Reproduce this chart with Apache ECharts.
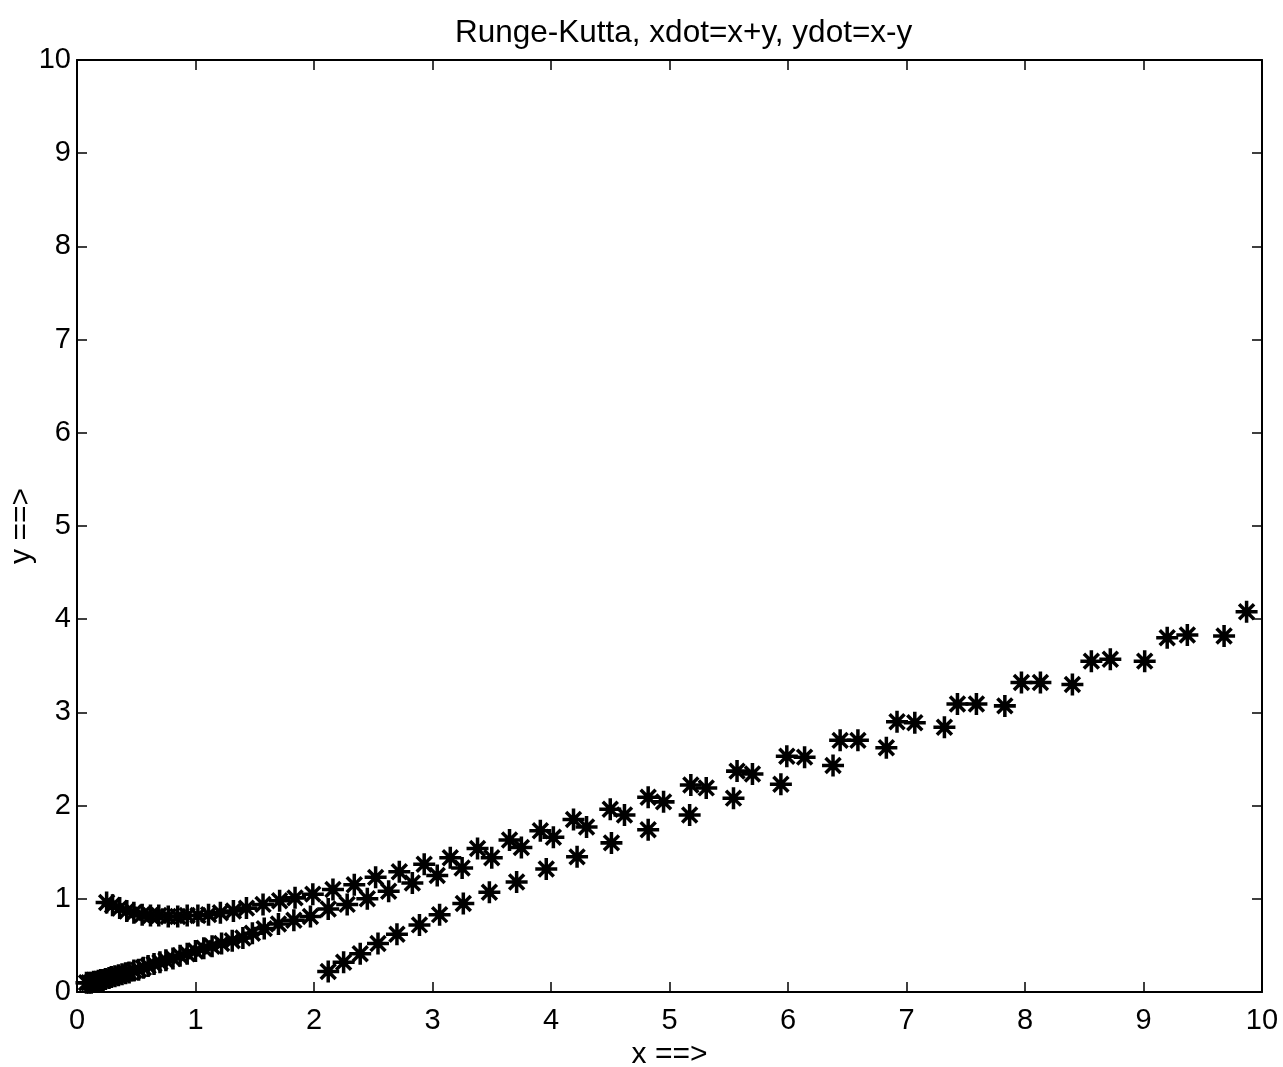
<!DOCTYPE html>
<html>
<head>
<meta charset="utf-8">
<title>Runge-Kutta</title>
<script src="https://cdn.jsdelivr.net/npm/echarts@6/dist/echarts.min.js"></script>
<style>
  html, body { margin: 0; padding: 0; background: #fff; }
  #chart { width: 1283px; height: 1067px; }
</style>
</head>
<body>
<div id="chart"></div>
<script>
// trajectory starting near (0.25, 0.95)
const upperX = [0.25, 0.30, 0.36, 0.42, 0.48, 0.55, 0.62, 0.69, 0.77, 0.85, 0.93, 1.02, 1.11, 1.21, 1.32,
  1.43, 1.57, 1.71, 1.84, 1.99, 2.16, 2.34, 2.52, 2.72, 2.93, 3.15, 3.38, 3.65, 3.91, 4.19,
  4.50, 4.82, 5.18, 5.57, 5.99, 6.44, 6.92, 7.43, 7.97, 8.56, 9.20, 9.87]
const upperY = [0.96, 0.93, 0.90, 0.87, 0.85, 0.83, 0.82, 0.82, 0.81, 0.81, 0.82, 0.82, 0.83, 0.85, 0.87,
  0.90, 0.94, 0.98, 1.01, 1.05, 1.10, 1.15, 1.23, 1.29, 1.37, 1.44, 1.54, 1.63, 1.73, 1.85,
  1.96, 2.09, 2.22, 2.37, 2.53, 2.70, 2.90, 3.09, 3.32, 3.55, 3.80, 4.08]

// trajectory starting near the origin
const middleX = [0.08, 0.10, 0.12, 0.14, 0.16, 0.18, 0.20, 0.22, 0.24, 0.27, 0.29, 0.32, 0.35, 0.38, 0.41,
  0.44, 0.48, 0.52, 0.56, 0.60, 0.65, 0.70, 0.75, 0.81, 0.87, 0.93, 1.00, 1.07, 1.14, 1.22,
  1.31, 1.40, 1.48, 1.58, 1.70, 1.83, 1.97, 2.12, 2.28, 2.45, 2.63, 2.83, 3.04, 3.25, 3.50,
  3.75, 4.02, 4.30, 4.62, 4.95, 5.31, 5.70, 6.14, 6.59, 7.07, 7.59, 8.13, 8.72, 9.37]
const middleY = [0.10, 0.10, 0.10, 0.11, 0.11, 0.12, 0.13, 0.13, 0.14, 0.15, 0.16, 0.17, 0.18, 0.19, 0.20,
  0.21, 0.23, 0.24, 0.26, 0.28, 0.30, 0.32, 0.34, 0.36, 0.39, 0.41, 0.44, 0.47, 0.49, 0.52,
  0.55, 0.58, 0.63, 0.68, 0.73, 0.77, 0.81, 0.89, 0.94, 1.00, 1.08, 1.17, 1.25, 1.33, 1.44,
  1.55, 1.66, 1.77, 1.90, 2.04, 2.19, 2.34, 2.52, 2.70, 2.89, 3.09, 3.32, 3.57, 3.83]

// trajectory starting near (2.1, 0.2)
const lowerX = [2.12, 2.25, 2.39, 2.54, 2.70, 2.89, 3.06, 3.26, 3.48, 3.71, 3.96, 4.22,
  4.51, 4.82, 5.17, 5.54, 5.94, 6.38, 6.83, 7.32, 7.83, 8.40, 9.01, 9.68]
const lowerY = [0.22, 0.32, 0.41, 0.52, 0.62, 0.72, 0.83, 0.95, 1.07, 1.18, 1.32, 1.45,
  1.60, 1.74, 1.90, 2.08, 2.23, 2.43, 2.62, 2.84, 3.07, 3.30, 3.55, 3.82]

const tickValues = [0, 1, 2, 3, 4, 5, 6, 7, 8, 9, 10]

// asterisk marker: vertical, horizontal and two diagonal bars
const star = 'path://M42 0L58 0L58 100L42 100Z M0 42L100 42L100 58L0 58Z ' +
  'M21.66 10.34L89.66 78.34L78.34 89.66L10.34 21.66Z ' +
  'M78.34 10.34L89.66 21.66L21.66 89.66L10.34 78.34Z'

const pairs = (xs, ys) => xs.map((x, i) => [x, ys[i]])

const font = 'Liberation Sans, Arial, sans-serif'
const axisBase = {
  type: 'value',
  min: tickValues[0],
  max: tickValues[tickValues.length - 1],
  interval: 1,
  splitLine: { show: false },
  axisLine: { show: true, onZero: false, lineStyle: { color: '#000', width: 2 } },
  axisTick: { show: true, inside: true, length: 10, lineStyle: { color: '#000', width: 1.5 } }
}

const chart = echarts.init(document.getElementById('chart'))
chart.setOption({
  animation: false,
  backgroundColor: '#fff',
  title: {
    text: 'Runge-Kutta, xdot=x+y, ydot=x-y',
    left: 450,
    top: 12,
    textStyle: { fontFamily: font, fontSize: 31.5, fontWeight: 'normal', color: '#000' }
  },
  grid: { left: 77, right: 21, top: 60, bottom: 75, outerBoundsMode: 'none', containLabel: false },
  xAxis: [
    Object.assign({}, axisBase, {
      position: 'bottom',
      name: 'x ==>',
      nameLocation: 'middle',
      nameGap: 44,
      nameTextStyle: { fontFamily: font, fontSize: 30, color: '#000' },
      axisLabel: { fontFamily: font, fontSize: 29, color: '#000', margin: 14 }
    }),
    Object.assign({}, axisBase, { position: 'top', axisLabel: { show: false } })
  ],
  yAxis: [
    Object.assign({}, axisBase, {
      position: 'left',
      name: 'y ==>',
      nameLocation: 'middle',
      nameGap: 40,
      nameMoveOverlap: false,
      nameTextStyle: { fontFamily: font, fontSize: 30, color: '#000' },
      axisLabel: { fontFamily: font, fontSize: 29, color: '#000', margin: 6 }
    }),
    Object.assign({}, axisBase, { position: 'right', axisLabel: { show: false } })
  ],
  series: [
    { name: 'upper', data: pairs(upperX, upperY) },
    { name: 'middle', data: pairs(middleX, middleY) },
    { name: 'lower', data: pairs(lowerX, lowerY) }
  ].map(s => Object.assign(s, {
    type: 'scatter',
    xAxisIndex: 0,
    yAxisIndex: 0,
    symbol: star,
    symbolSize: 22,
    itemStyle: { color: '#000', opacity: 1 }
  }))
})
</script>
</body>
</html>
